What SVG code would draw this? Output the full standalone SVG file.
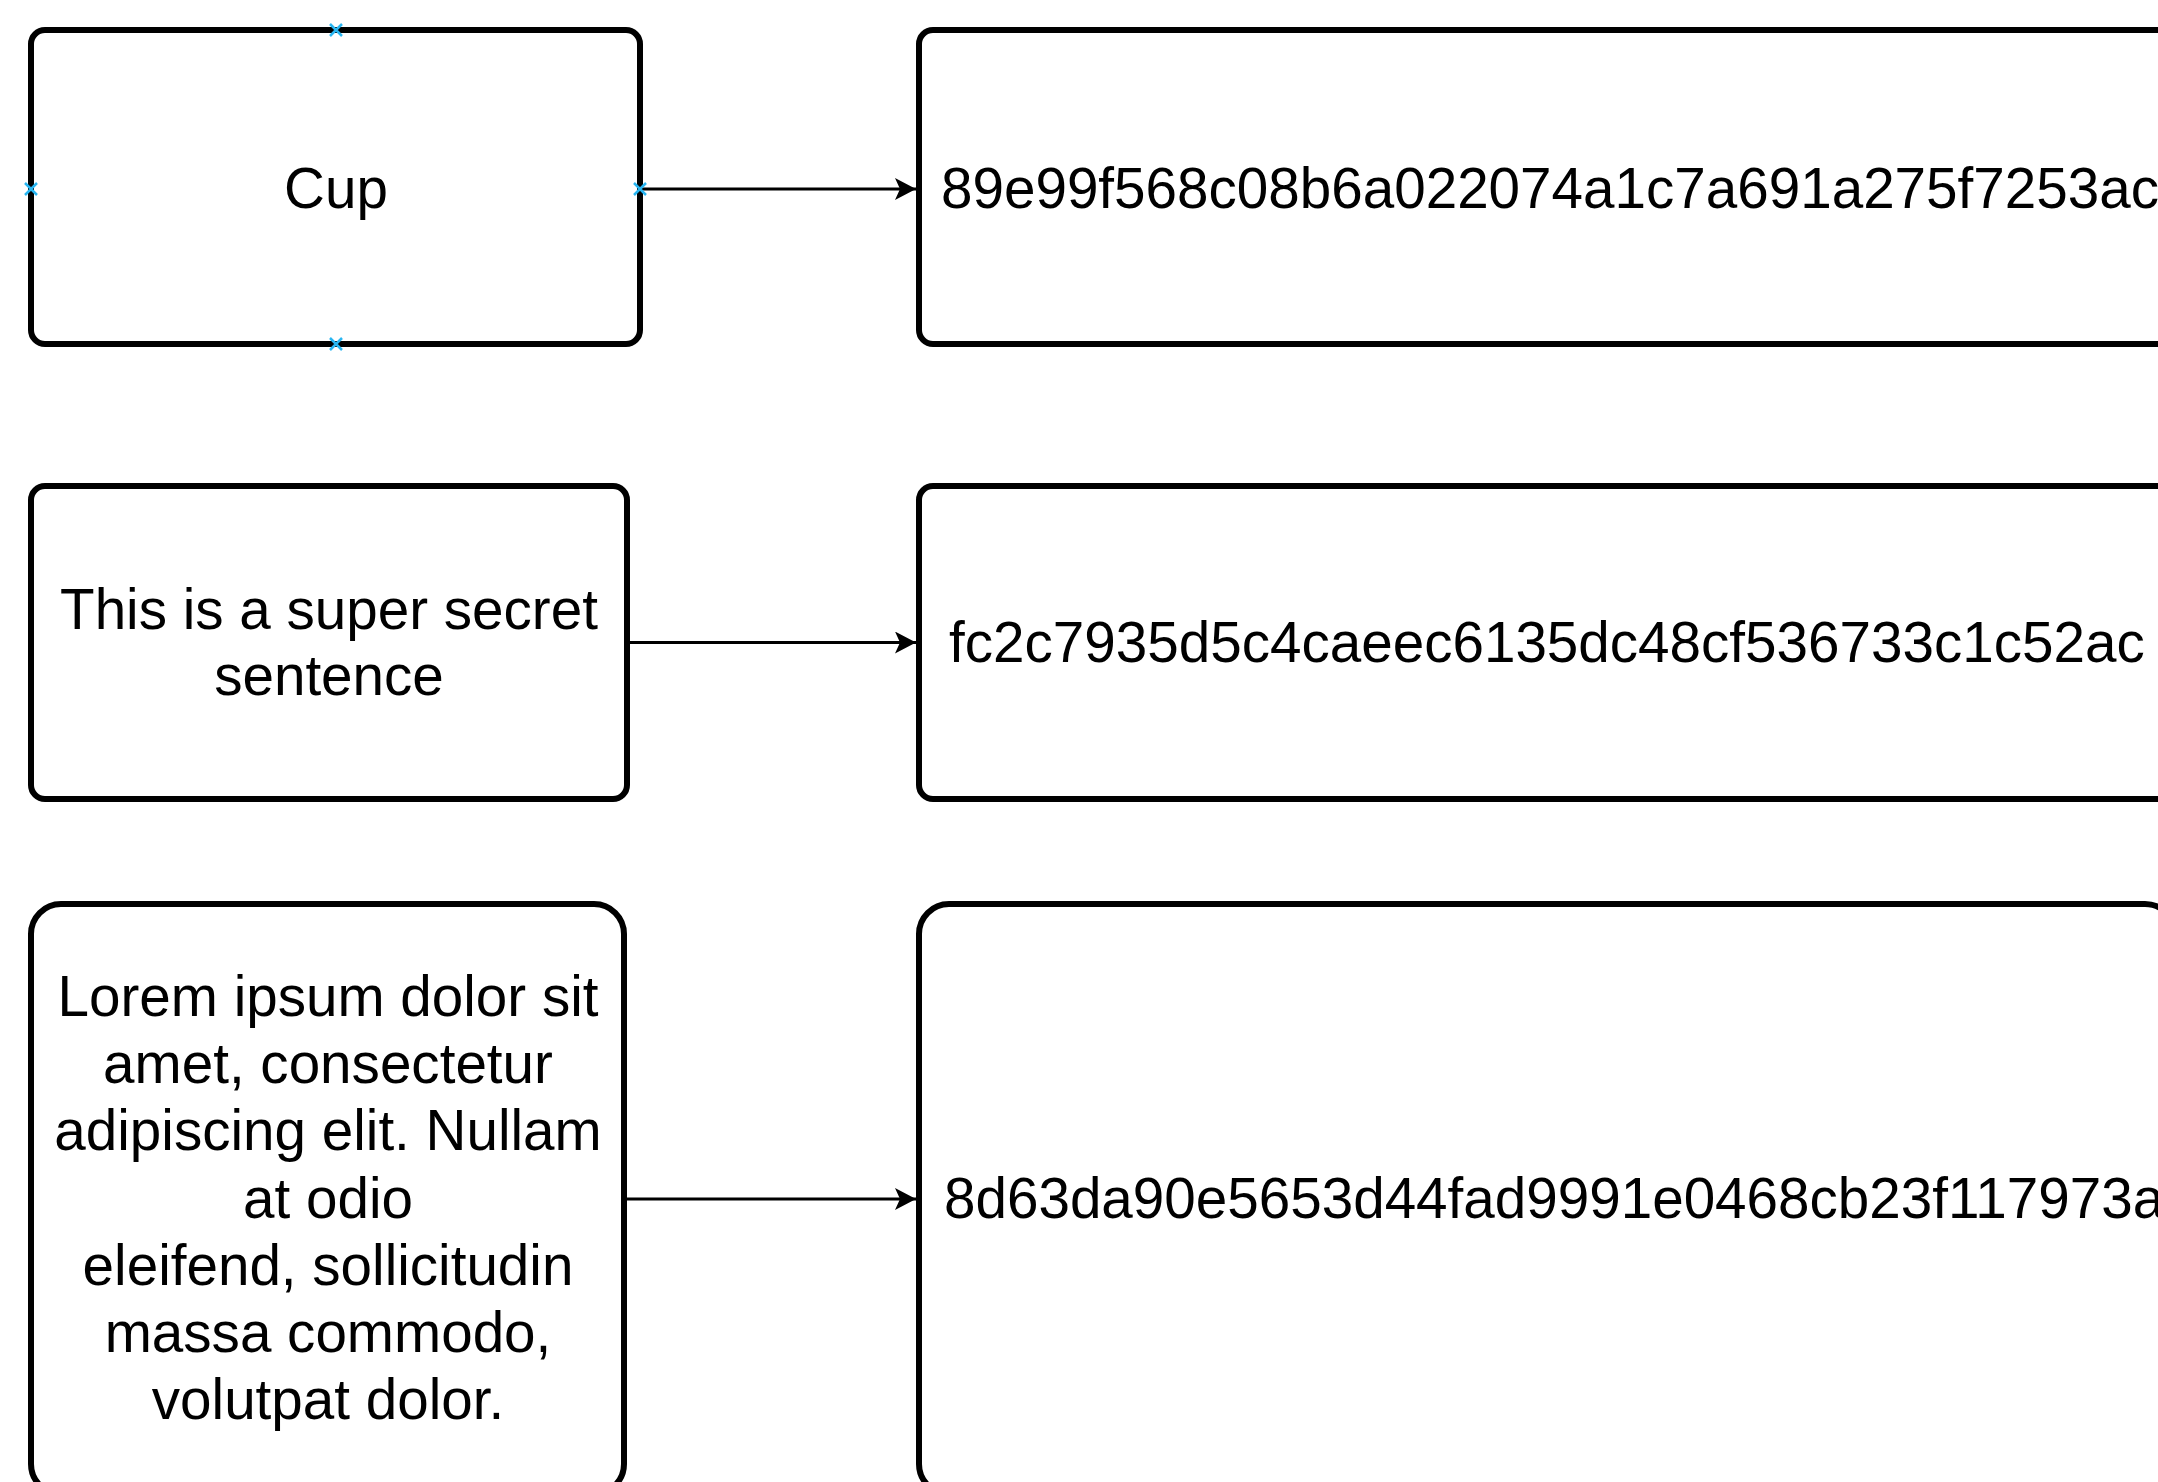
<svg xmlns="http://www.w3.org/2000/svg" width="2158" height="1482" viewBox="0 0 2158 1482">
<style>
  .box { fill: #ffffff; stroke: #000000; stroke-width: 6; }
  .lbl { font-family: "Liberation Sans", Arial, sans-serif; font-size: 56.6px; fill: #000000; }
  .mid { text-anchor: middle; }
  .edge { stroke: #000000; stroke-width: 3; fill: none; }
  .pt { stroke: #29B6F2; stroke-width: 2.5; fill: none; }
</style>
<defs>
  <marker id="arrow" markerUnits="userSpaceOnUse" markerWidth="24" markerHeight="24" refX="21" refY="11" orient="auto">
    <path d="M0,0 L21,11 L0,22 L5,11 Z" fill="#000000"/>
  </marker>
</defs>
<rect width="2158" height="1482" fill="#ffffff"/>

<g id="node-cup">
  <rect class="box" x="31" y="30" width="609" height="314" rx="14" ry="14"/>
  <text class="lbl mid" x="336" y="208">Cup</text>
</g>
<g id="node-hash-cup">
  <rect class="box" x="919" y="30" width="1256" height="314" rx="14" ry="14"/>
  <text class="lbl" x="941" y="208">89e99f568c08b6a022074a1c7a691a275f7253ac</text>
</g>

<g id="node-secret">
  <rect class="box" x="31" y="486" width="596" height="313" rx="14" ry="14"/>
  <text class="lbl mid" x="329" y="629">This is a super secret</text>
  <text class="lbl mid" x="329" y="695">sentence</text>
</g>
<g id="node-hash-secret">
  <rect class="box" x="919" y="486" width="1256" height="313" rx="14" ry="14"/>
  <text class="lbl" x="949" y="662">fc2c7935d5c4caeec6135dc48cf536733c1c52ac</text>
</g>

<g id="node-lorem">
  <rect class="box" x="31" y="904" width="593" height="590" rx="30" ry="30"/>
  <text class="lbl mid" x="328" y="1016">Lorem ipsum dolor sit</text>
  <text class="lbl mid" x="328" y="1083">amet, consectetur</text>
  <text class="lbl mid" x="328" y="1150">adipiscing elit. Nullam</text>
  <text class="lbl mid" x="328" y="1218">at odio</text>
  <text class="lbl mid" x="328" y="1285">eleifend, sollicitudin</text>
  <text class="lbl mid" x="328" y="1352">massa commodo,</text>
  <text class="lbl mid" x="328" y="1419">volutpat dolor.</text>
</g>
<g id="node-hash-lorem">
  <rect class="box" x="919" y="904" width="1256" height="590" rx="30" ry="30"/>
  <text class="lbl" x="944" y="1218">8d63da90e5653d44fad9991e0468cb23f117973a</text>
</g>

<g id="connectors">
  <line class="edge" x1="640" y1="189" x2="916" y2="189" marker-end="url(#arrow)"/>
  <line class="edge" x1="627" y1="642.5" x2="916" y2="642.5" marker-end="url(#arrow)"/>
  <line class="edge" x1="624" y1="1199" x2="916" y2="1199" marker-end="url(#arrow)"/>
</g>

<g id="connection-points">
  <path class="pt" d="M330,24 L342,36 M342,24 L330,36"/>
  <path class="pt" d="M25,183 L37,195 M37,183 L25,195"/>
  <path class="pt" d="M634,183 L646,195 M646,183 L634,195"/>
  <path class="pt" d="M330,338 L342,350 M342,338 L330,350"/>
</g>
</svg>
